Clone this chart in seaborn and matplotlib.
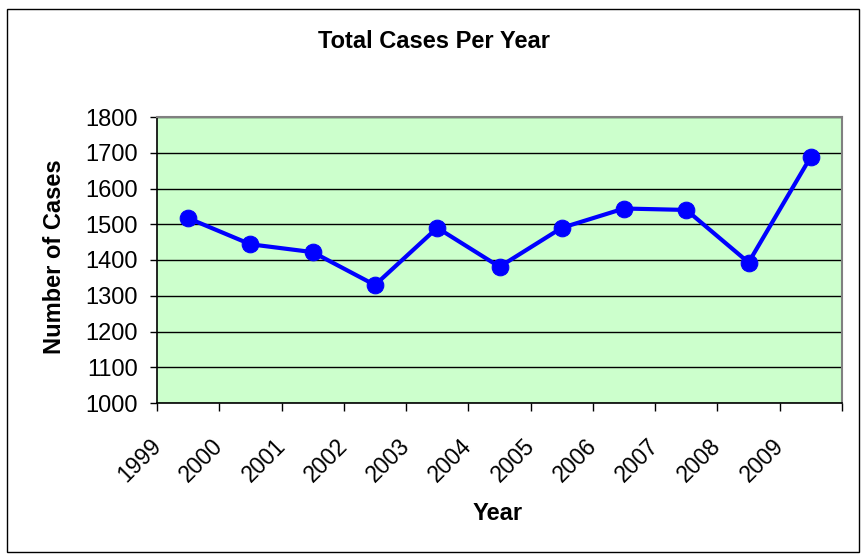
import matplotlib
matplotlib.use("Agg")
import matplotlib.pyplot as plt
import matplotlib.transforms as mtransforms
from matplotlib.patches import Rectangle
import seaborn as sns
import pandas as pd

# data
years = ["1999", "2000", "2001", "2002", "2003", "2004",
         "2005", "2006", "2007", "2008", "2009"]
cases = [1517, 1444, 1422, 1330, 1490, 1381,
         1490, 1544, 1540, 1393, 1689]
y_ticks = [1000, 1100, 1200, 1300, 1400, 1500, 1600, 1700, 1800]

df = pd.DataFrame({"Year": years, "Cases": cases})

sns.set_style("white")
plt.rcParams["font.family"] = ["Liberation Sans", "DejaVu Sans"]
plt.rcParams["text.color"] = "black"
plt.rcParams["axes.labelcolor"] = "black"
plt.rcParams["xtick.color"] = "black"
plt.rcParams["ytick.color"] = "black"

fig = plt.figure(figsize=(8.61, 5.54), dpi=100)
ax = fig.add_axes([157 / 861, 1 - 403 / 554, 685 / 861, 286 / 554])
ax.set_facecolor("#CCFFCC")

sns.lineplot(data=df, x="Year", y="Cases", ax=ax, color="#0000FF",
             linewidth=3, marker="o", markersize=12,
             markeredgecolor="#0000FF", sort=False)

ax.set_xlim(-0.5, len(years) - 0.5)
ax.set_ylim(y_ticks[0], y_ticks[-1])
ax.set_yticks(y_ticks)
ax.yaxis.grid(True, color="black", linewidth=1.0)
ax.set_axisbelow(True)

# category ticks between points, labels centred on points
ax.set_xticks(range(len(years)))
ax.set_xticklabels(years, rotation=45, ha="right", va="top",
                   rotation_mode="anchor", fontsize=16.5)
ax.set_xticks([i - 0.5 for i in range(len(years) + 1)], minor=True)
ax.tick_params(axis="x", which="major", length=0, pad=0)
ax.tick_params(axis="x", which="minor", length=6, width=1, direction="out",
               color="black", bottom=True)
offset = mtransforms.ScaledTranslation(-0.39, -0.31, fig.dpi_scale_trans)
for lab in ax.get_xticklabels():
    lab.set_transform(lab.get_transform() + offset)

ax.tick_params(axis="y", length=5, width=1, direction="out", color="black",
               pad=9, labelsize=17, left=True)

for side in ["top", "right"]:
    ax.spines[side].set_color("#808080")
    ax.spines[side].set_linewidth(1.5)
for side in ["left", "bottom"]:
    ax.spines[side].set_color("black")
    ax.spines[side].set_linewidth(1.2)

ax.set_xlabel("Year", fontsize=17, fontweight="bold", va="center")
ax.xaxis.set_label_coords((498 - 157) / 685, (403 - 514) / 286)
ax.set_ylabel("Number of Cases", fontsize=17, fontweight="bold", va="center")
ax.yaxis.set_label_coords((55 - 157) / 685, (403 - 257) / 286)

fig.text(434 / 861, 1 - 42 / 554, "Total Cases Per Year", fontsize=17,
         fontweight="bold", ha="center", va="center")

# outer chart frame
fig.patches.append(Rectangle((7 / 861, 1 - 552 / 554), 852 / 861, 543 / 554,
                             transform=fig.transFigure, fill=False,
                             edgecolor="black", linewidth=1))

fig.savefig("out.png", dpi=100)
